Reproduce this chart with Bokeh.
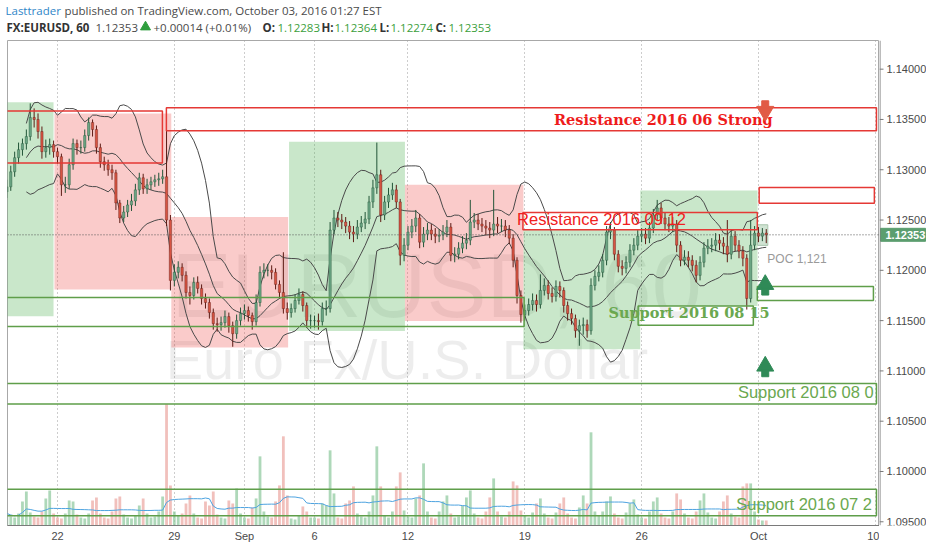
import numpy as np
import pandas as pd
from bokeh.plotting import figure
from bokeh.models import Range1d, FixedTicker, Span, ColumnDataSource
from bokeh.layouts import column, row
from bokeh.core.properties import value
from bokeh.embed import file_html
from bokeh.resources import INLINE

# EURUSD, resampled to 4h bars (first bar Aug 18, last Oct 3 01:00)
first_open = 1.1278
closes = [
    1.1283,
    1.1298, 1.1312, 1.1320, 1.1326, 1.1333, 1.1352,   # Aug 18
    1.1350, 1.1338, 1.1318, 1.1322, 1.1325, 1.1318,   # Aug 19
    1.1313, 1.1285, 1.1285, 1.1305, 1.1326, 1.1322,   # Aug 22
    1.1322, 1.1334, 1.1347, 1.1340, 1.1322, 1.1308,   # Aug 23
    1.1305, 1.1300, 1.1297, 1.1267, 1.1252, 1.1258,   # Aug 24
    1.1265, 1.1269, 1.1280, 1.1292, 1.1281, 1.1285,   # Aug 25
    1.1288, 1.1290, 1.1291, 1.1293, 1.1250, 1.1190,   # Aug 26
    1.1198, 1.1203, 1.1195, 1.1178, 1.1175, 1.1188,   # Aug 29
    1.1182, 1.1172, 1.1168, 1.1158, 1.1147, 1.1146,   # Aug 30
    1.1148, 1.1154, 1.1145, 1.1137, 1.1150, 1.1157,   # Aug 31
    1.1160, 1.1155, 1.1149, 1.1168, 1.1198, 1.1200,   # Sep 1
    1.1200, 1.1198, 1.1186, 1.1178, 1.1162, 1.1158,   # Sep 2
    1.1162, 1.1170, 1.1176, 1.1165, 1.1150, 1.1150,   # Sep 5
    1.1150, 1.1149, 1.1162, 1.1162, 1.1240, 1.1252,   # Sep 6
    1.1250, 1.1248, 1.1244, 1.1238, 1.1236, 1.1243,   # Sep 7
    1.1247, 1.1251, 1.1268, 1.1282, 1.1295, 1.1255,   # Sep 8
    1.1268, 1.1275, 1.1280, 1.1268, 1.1215, 1.1225,   # Sep 9
    1.1238, 1.1244, 1.1252, 1.1228, 1.1236, 1.1240,   # Sep 12
    1.1236, 1.1234, 1.1235, 1.1238, 1.1243, 1.1215,   # Sep 13
    1.1216, 1.1222, 1.1227, 1.1230, 1.1248, 1.1250,   # Sep 14
    1.1246, 1.1244, 1.1242, 1.1240, 1.1246, 1.1244,   # Sep 15
    1.1244, 1.1240, 1.1232, 1.1210, 1.1175, 1.1156,   # Sep 16
    1.1160, 1.1166, 1.1170, 1.1166, 1.1180, 1.1185,   # Sep 19
    1.1177, 1.1174, 1.1184, 1.1180, 1.1165, 1.1157,   # Sep 20
    1.1152, 1.1140, 1.1145, 1.1146, 1.1140, 1.1185,   # Sep 21
    1.1194, 1.1198, 1.1210, 1.1238, 1.1240, 1.1216,   # Sep 22
    1.1204, 1.1202, 1.1208, 1.1220, 1.1225, 1.1234,   # Sep 23
    1.1236, 1.1232, 1.1242, 1.1255, 1.1262, 1.1252,   # Sep 26
    1.1246, 1.1244, 1.1246, 1.1225, 1.1210, 1.1213,   # Sep 27
    1.1210, 1.1205, 1.1195, 1.1208, 1.1222, 1.1224,   # Sep 28
    1.1225, 1.1230, 1.1227, 1.1224, 1.1216, 1.1234,   # Sep 29
    1.1225, 1.1219, 1.1212, 1.1172, 1.1225, 1.1237,   # Sep 30
    1.1234, 1.1237, 1.12353,                          # Oct 3
]
highs = [
    1.1290,
    1.1304, 1.1318, 1.1327, 1.1331, 1.1340, 1.1366,
    1.1361, 1.1356, 1.1343, 1.1330, 1.1331, 1.1329,
    1.1322, 1.1316, 1.1293, 1.1311, 1.1331, 1.1330,
    1.1329, 1.1340, 1.1352, 1.1350, 1.1344, 1.1326,
    1.1313, 1.1310, 1.1305, 1.1300, 1.1270, 1.1264,
    1.1270, 1.1276, 1.1286, 1.1297, 1.1296, 1.1291,
    1.1293, 1.1295, 1.1297, 1.1300, 1.1340, 1.1255,
    1.1206, 1.1209, 1.1207, 1.1199, 1.1184, 1.1193,
    1.1194, 1.1186, 1.1177, 1.1172, 1.1162, 1.1153,
    1.1154, 1.1160, 1.1158, 1.1149, 1.1156, 1.1163,
    1.1166, 1.1164, 1.1158, 1.1176, 1.1204, 1.1207,
    1.1206, 1.1205, 1.1202, 1.1190, 1.1218, 1.1168,
    1.1167, 1.1176, 1.1182, 1.1179, 1.1168, 1.1156,
    1.1155, 1.1157, 1.1168, 1.1170, 1.1248, 1.1260,
    1.1258, 1.1256, 1.1253, 1.1249, 1.1244, 1.1250,
    1.1254, 1.1258, 1.1274, 1.1290, 1.1327, 1.1300,
    1.1274, 1.1282, 1.1287, 1.1285, 1.1271, 1.1232,
    1.1244, 1.1251, 1.1260, 1.1256, 1.1243, 1.1247,
    1.1246, 1.1242, 1.1241, 1.1245, 1.1250, 1.1247,
    1.1223, 1.1228, 1.1234, 1.1237, 1.1270, 1.1257,
    1.1256, 1.1252, 1.1250, 1.1248, 1.1280, 1.1253,
    1.1251, 1.1250, 1.1245, 1.1236, 1.1213, 1.1180,
    1.1166, 1.1172, 1.1177, 1.1176, 1.1196, 1.1192,
    1.1190, 1.1183, 1.1190, 1.1189, 1.1183, 1.1169,
    1.1162, 1.1156, 1.1151, 1.1153, 1.1151, 1.1192,
    1.1200, 1.1205, 1.1216, 1.1244, 1.1248, 1.1243,
    1.1220, 1.1210, 1.1214, 1.1226, 1.1232, 1.1240,
    1.1242, 1.1242, 1.1248, 1.1261, 1.1270, 1.1267,
    1.1257, 1.1253, 1.1253, 1.1250, 1.1229, 1.1220,
    1.1219, 1.1215, 1.1210, 1.1214, 1.1228, 1.1231,
    1.1232, 1.1237, 1.1236, 1.1233, 1.1250, 1.1241,
    1.1239, 1.1230, 1.1224, 1.1216, 1.1250, 1.1244,
    1.1243, 1.1242, 1.1241,
]
lows = [
    1.1272,
    1.1279, 1.1293, 1.1306, 1.1314, 1.1320, 1.1329,
    1.1342, 1.1331, 1.1311, 1.1312, 1.1315, 1.1312,
    1.1306, 1.1274, 1.1277, 1.1281, 1.1300, 1.1315,
    1.1316, 1.1318, 1.1329, 1.1333, 1.1316, 1.1302,
    1.1299, 1.1294, 1.1290, 1.1260, 1.1247, 1.1248,
    1.1253, 1.1259, 1.1264, 1.1275, 1.1276, 1.1276,
    1.1280, 1.1283, 1.1284, 1.1286, 1.1244, 1.1180,
    1.1184, 1.1192, 1.1189, 1.1172, 1.1166, 1.1171,
    1.1177, 1.1166, 1.1162, 1.1152, 1.1141, 1.1139,
    1.1140, 1.1143, 1.1138, 1.1124, 1.1132, 1.1145,
    1.1151, 1.1149, 1.1141, 1.1145, 1.1164, 1.1192,
    1.1194, 1.1191, 1.1181, 1.1172, 1.1157, 1.1151,
    1.1153, 1.1158, 1.1166, 1.1159, 1.1143, 1.1142,
    1.1143, 1.1141, 1.1145, 1.1155, 1.1158, 1.1236,
    1.1243, 1.1241, 1.1237, 1.1231, 1.1228, 1.1231,
    1.1238, 1.1241, 1.1246, 1.1262, 1.1276, 1.1248,
    1.1250, 1.1262, 1.1270, 1.1262, 1.1205, 1.1209,
    1.1220, 1.1232, 1.1238, 1.1222, 1.1223, 1.1230,
    1.1230, 1.1227, 1.1228, 1.1230, 1.1233, 1.1209,
    1.1208, 1.1211, 1.1217, 1.1221, 1.1225, 1.1242,
    1.1240, 1.1238, 1.1235, 1.1232, 1.1234, 1.1237,
    1.1238, 1.1233, 1.1226, 1.1203, 1.1167, 1.1148,
    1.1150, 1.1155, 1.1160, 1.1159, 1.1162, 1.1175,
    1.1171, 1.1168, 1.1169, 1.1173, 1.1158, 1.1150,
    1.1146, 1.1133, 1.1125, 1.1136, 1.1133, 1.1136,
    1.1180, 1.1189, 1.1193, 1.1205, 1.1231, 1.1210,
    1.1198, 1.1195, 1.1197, 1.1203, 1.1215, 1.1220,
    1.1228, 1.1226, 1.1227, 1.1237, 1.1250, 1.1246,
    1.1240, 1.1238, 1.1238, 1.1218, 1.1204, 1.1205,
    1.1203, 1.1199, 1.1188, 1.1190, 1.1203, 1.1216,
    1.1218, 1.1219, 1.1220, 1.1216, 1.1208, 1.1211,
    1.1219, 1.1212, 1.1204, 1.1161, 1.1168, 1.1220,
    1.1228, 1.1229, 1.1227,
]
volume = [
    12,
    9, 8, 12, 24, 34, 13,
    9, 8, 14, 27, 35, 12,
    8, 7, 12, 25, 24, 11,
    8, 7, 12, 25, 28, 12,
    8, 7, 14, 27, 29, 11,
    8, 7, 10, 20, 27, 12,
    8, 9, 14, 29, 121, 40,
    14, 10, 12, 22, 30, 12,
    8, 7, 24, 20, 34, 11,
    8, 7, 25, 22, 37, 12,
    8, 7, 18, 27, 69, 14,
    9, 8, 24, 40, 89, 30,
    7, 6, 10, 19, 14, 8,
    8, 7, 22, 20, 75, 32,
    8, 7, 22, 25, 39, 12,
    9, 8, 14, 30, 79, 39,
    10, 8, 14, 39, 53, 15,
    9, 8, 27, 30, 62, 14,
    8, 7, 14, 24, 30, 12,
    8, 9, 20, 28, 35, 12,
    8, 7, 14, 28, 47, 14,
    9, 8, 14, 44, 40, 15,
    10, 8, 13, 22, 27, 12,
    8, 7, 13, 22, 28, 12,
    8, 7, 18, 30, 22, 93,
    14, 10, 14, 24, 29, 12,
    8, 7, 13, 22, 26, 11,
    8, 7, 14, 24, 28, 12,
    8, 7, 14, 32, 26, 12,
    8, 7, 14, 25, 32, 13,
    8, 7, 14, 24, 30, 12,
    9, 8, 39, 42, 42, 14,
    6, 5, 5,
]

# time axis: trading days from Aug 22 (weekends removed, like TradingView)
first_bar_hour = -52
bar_hours = 4
day_ticks = [0, 5, 8, 11, 15, 20, 25, 30, 35]
day_labels = ["22", "29", "Sep", "6", "12", "19", "26", "Oct", "10"]
price_ticks = [1.095, 1.100, 1.105, 1.110, 1.115, 1.120, 1.125, 1.130, 1.135, 1.140]
last_price = 1.12353

# drawings (trading day, price)
green_fill = dict(left=[-2.3, 9.91, 19.94, 24.94], right=[-0.17, 14.87, 24.94, 29.96],
                  bottom=[1.11543, 1.11397, 1.11216, 1.11645], top=[1.13671, 1.13278, 1.12404, 1.12793])
red_fill = dict(left=[-0.13, 4.87, 14.87], right=[4.87, 9.87, 19.94],
                bottom=[1.11810, 1.11233, 1.11496], top=[1.13559, 1.12530, 1.12850])
red_frames = dict(left=[-2.3, 4.66, 30.03, 19.92], right=[4.49, 35.05, 34.96, 29.95],
                  bottom=[1.13067, 1.13387, 1.12668, 1.12404], top=[1.13585, 1.13617, 1.12823, 1.12575])
green_frames = dict(left=[-2.3, 24.85, 29.95, -2.3, -2.3], right=[19.97, 29.78, 34.92, 35.05, 35.05],
                    bottom=[1.11441, 1.11453, 1.11701, 1.10671, 1.09559],
                    top=[1.11731, 1.11645, 1.11840, 1.10876, 1.09823])
arrow_days = [30.29, 30.29, 30.29]
arrow_tips = [1.13531, 1.11909, 1.11097]
arrow_dirs = ["down", "up", "up"]

n = len(closes)
x = (first_bar_hour + bar_hours * np.arange(n)) / 24.0
opens = [first_open] + closes[:-1]
up = np.array(closes) >= np.array(opens)

src = ColumnDataSource(dict(
    x=x, open=opens, close=closes, high=highs, low=lows,
    top=np.maximum(opens, closes), bottom=np.minimum(opens, closes),
    body=np.where(up, "#6ba583", "#d75442"),
    wick=np.where(up, "#225437", "#5b1a13"),
    vol=volume,
    vol_color=np.where(up, "#8cc79b", "#eba5a0"),
))

s = pd.Series(closes)
bb_mid = s.rolling(13, min_periods=6).mean()
bb_sd = s.rolling(13, min_periods=6).std(ddof=0)
bb_up = bb_mid + 2 * bb_sd
bb_lo = bb_mid - 2 * bb_sd
vol_ma = pd.Series(volume).rolling(12, min_periods=1).mean()

price_range = Range1d(1.09463, 1.14285)

p = figure(width=879, height=506, x_range=Range1d(-2.14, 35.18), y_range=price_range,
           y_axis_location=None, output_backend="svg", toolbar_location=None,
           min_border_left=7, min_border_top=2, min_border_right=0, min_border_bottom=0,
           background_fill_color="white", border_fill_color="white",
           outline_line_color="#a8a8a8")
p.extra_y_ranges = {"vol": Range1d(0, max(volume) * 4)}

# watermark
p.text(x=[4.88], y=[1.1184], text=["EURUSD, 60"], text_font=value("Liberation Sans"),
       text_font_size="90px", text_color="black", text_alpha=0.07, text_baseline="alphabetic")
p.text(x=[4.63], y=[1.11117], text=["Euro Fx/U.S. Dollar"], text_font=value("Liberation Sans"),
       text_font_size="56px", text_color="black", text_alpha=0.07, text_baseline="alphabetic")

p.quad(source=ColumnDataSource(green_fill), left="left", right="right", bottom="bottom", top="top",
       fill_color="#4caf50", fill_alpha=0.3, line_color=None)
p.quad(source=ColumnDataSource(red_fill), left="left", right="right", bottom="bottom", top="top",
       fill_color="#ef5350", fill_alpha=0.3, line_color=None)
p.quad(left=[29.96], right=[30.4], bottom=[1.12248], top=[1.12453],
       fill_color="#cfe3d2", line_color="#a9c4ad")

# volume
p.vbar(x="x", width=0.12, top="vol", bottom=0, source=src, y_range_name="vol",
       fill_color="vol_color", fill_alpha=0.7, line_color=None)
p.line(x, vol_ma, y_range_name="vol", line_color="#4da3e0", line_width=1)

# bollinger bands
for band in (bb_up, bb_mid, bb_lo):
    p.line(x, band, line_color="#4a4a4a", line_width=1)

p.add_layout(Span(location=last_price, dimension="width", line_color="#555555",
                  line_dash="1 2", line_width=1))

# candles
p.segment(x0="x", y0="high", x1="x", y1="low", source=src, line_color="wick", line_width=1)
p.vbar(x="x", width=0.1, top="top", bottom="bottom", source=src,
       fill_color="body", line_color="wick", line_width=0.4)

p.quad(source=ColumnDataSource(red_frames), left="left", right="right", bottom="bottom", top="top",
       fill_color=None, line_color="#e53935", line_width=1.5)
p.quad(source=ColumnDataSource(green_frames), left="left", right="right", bottom="bottom", top="top",
       fill_color=None, line_color="#5f9e4a", line_width=1.5)

# drawing labels
p.text(x=[21.25], y=[1.1350], text=["Resistance 2016 06 Strong"], text_font=value("DejaVu Serif"),
       text_font_style="bold", text_font_size="14.5px", text_color="#ee1c1c", text_baseline="middle")
p.text(x=[19.67], y=[1.12513], text=["Resistance 2016 09 12"], text_font=value("Liberation Sans"),
       text_font_size="16.5px", text_color="#f02020", text_baseline="middle")
p.text(x=[23.58], y=[1.11579], text=["Support 2016 08 15"], text_font=value("DejaVu Serif"),
       text_font_style="bold", text_font_size="14.5px", text_color="#6aa84f", text_baseline="middle")
p.text(x=[29.12, 29.05], y=[1.10787, 1.09678], text=["Support 2016 08 0", "Support 2016 07 2"],
       text_font=value("Liberation Sans"), text_font_size="16.5px", text_color="#6aa84f",
       text_baseline="middle")
p.text(x=[30.38], y=[1.12117], text=["POC 1,121"], text_font=value("Liberation Sans"),
       text_font_size="12px", text_color="#9a9a9a", text_baseline="middle")

# arrows
for d, tip, kind in zip(arrow_days, arrow_tips, arrow_dirs):
    sign = 1 if kind == "down" else -1
    col = "#e15b45" if kind == "down" else "#2f8a57"
    p.scatter([d], [tip + sign * 0.0005], marker="inverted_triangle" if kind == "down" else "triangle",
              size=17, fill_color=col, line_color=col)
    p.rect([d], [tip + sign * 0.0012], width=7, height=7, width_units="screen", height_units="screen",
           fill_color=col, line_color=col)

p.xaxis.ticker = FixedTicker(ticks=day_ticks)
p.xaxis.major_label_overrides = dict(zip(day_ticks, day_labels))
p.xaxis.major_tick_out = 0
p.xaxis.major_tick_in = 0
p.xaxis.minor_tick_line_color = None
p.xaxis.major_label_standoff = 4
p.xaxis.axis_line_color = "#7a7a7a"
p.xaxis.major_label_text_font = "Liberation Sans"
p.xaxis.major_label_text_font_size = "11px"
p.xaxis.major_label_text_color = "#4a4a4a"
p.xgrid.ticker = FixedTicker(ticks=day_ticks)
p.xgrid.grid_line_dash = "1 3"
p.xgrid.grid_line_color = "#9a9a9a"
p.ygrid.visible = False

# price scale on the right, with the last-price tag
pa = figure(width=47, height=506, x_range=Range1d(0, 47), y_range=price_range,
            output_backend="svg", toolbar_location=None, x_axis_location=None,
            y_axis_location=None, min_border_left=0, min_border_right=0,
            min_border_top=2, min_border_bottom=18, outline_line_color=None)
pa.xgrid.visible = False
pa.ygrid.visible = False
pa.add_layout(Span(location=0.5, dimension="height", line_color="#7a7a7a", line_width=1))
pa.segment(x0=[0] * len(price_ticks), y0=price_ticks, x1=[4] * len(price_ticks), y1=price_ticks,
           line_color="#7a7a7a", line_width=1)
pa.text(x=[7] * len(price_ticks), y=price_ticks, text=[f"{t:.5f}" for t in price_ticks],
        text_font=value("Liberation Sans"), text_font_size="11px", text_color="#4a4a4a",
        text_baseline="middle")
pa.rect([23.5], [last_price], width=45, height=13, height_units="screen",
        fill_color="#5b9e6f", line_color="#5b9e6f")
pa.text(x=[6], y=[last_price], text=[f"{last_price:.5f}"], text_font=value("Liberation Sans"),
        text_font_style="bold", text_font_size="11px", text_color="white", text_baseline="middle")

# header above the chart, in page pixels
head = figure(width=926, height=38, x_range=Range1d(0, 926), y_range=Range1d(38, 0),
              output_backend="svg", toolbar_location=None, x_axis_location=None,
              y_axis_location=None, min_border=0, outline_line_color=None)
head.xgrid.visible = False
head.ygrid.visible = False
font = value("Open Sans")
head.text(x=[5], y=[10], text=["Lasttrader"], text_font=font, text_font_size="11.5px",
          text_color="#2f86c8", text_baseline="middle")
head.text(x=[64], y=[10], text=["published on TradingView.com, October 03, 2016 01:27 EST"],
          text_font=font, text_font_size="11.5px", text_color="#4a4a4a", text_baseline="middle")
head.text(x=[6, 262, 321, 379, 435], y=[27] * 5, text=["FX:EURUSD, 60", "O:", "H:", "L:", "C:"],
          text_font=font, text_font_style="bold", text_font_size="11.5px", text_color="#333333",
          text_baseline="middle")
head.text(x=[95, 153], y=[27, 27], text=["1.12353", "+0.00014 (+0.01%)"], text_font=font,
          text_font_size="11.5px", text_color="#4a4a4a", text_baseline="middle")
head.text(x=[277, 334, 390, 448], y=[27] * 4, text=["1.12283", "1.12364", "1.12274", "1.12353"],
          text_font=font, text_font_size="11.5px", text_color="#3ca03c", text_baseline="middle")
head.scatter([145], [26.5], marker="triangle", size=10, fill_color="#2e9e3e", line_color="#2e9e3e")

layout = column(head, row(p, pa, spacing=0), spacing=0)
open("out.html", "w").write(file_html(layout, INLINE))
